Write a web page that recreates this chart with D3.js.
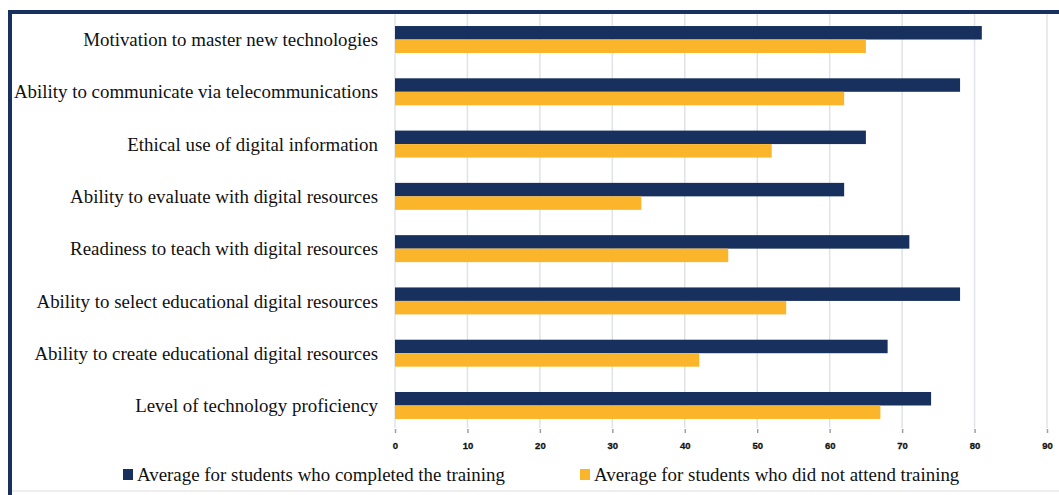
<!DOCTYPE html>
<html>
<head>
<meta charset="utf-8">
<script src="https://cdn.jsdelivr.net/npm/d3@7"></script>
<style>
  body { margin: 0; background: #fff; }
  svg { display: block; }
</style>
</head>
<body>
<div id="chart"></div>
<script>
'use strict';

var categories = [
  'Motivation to master new technologies',
  'Ability to communicate via telecommunications',
  'Ethical use of digital information',
  'Ability to evaluate with digital resources',
  'Readiness to teach with digital resources',
  'Ability to select educational digital resources',
  'Ability to create educational digital resources',
  'Level of technology proficiency'
];
var completed = [81, 78, 65, 62, 71, 78, 68, 74];
var notAttended = [65, 62, 52, 34, 46, 54, 42, 67];
var seriesNames = [
  'Average for students who completed the training',
  'Average for students who did not attend training'
];
var xTicks = [0, 10, 20, 30, 40, 50, 60, 70, 80, 90];

var W = 1059, H = 495;
var navy = '#17305e', orange = '#fbb52b';

var svg = d3.select('#chart').append('svg')
  .attr('width', W).attr('height', H);

// frame (dark top + left edge)
svg.append('rect').attr('x', 0).attr('y', 0).attr('width', W).attr('height', H).attr('fill', '#fff');
svg.append('line').attr('x1', 8).attr('x2', W).attr('y1', 12).attr('y2', 12)
  .attr('stroke', navy).attr('stroke-width', 4);
svg.append('line').attr('x1', 10).attr('x2', 10).attr('y1', 10).attr('y2', H)
  .attr('stroke', navy).attr('stroke-width', 4);
svg.append('line').attr('x1', 12).attr('x2', W).attr('y1', 491).attr('y2', 491)
  .attr('stroke', '#eeeeee').attr('stroke-width', 2);

var x = d3.scaleLinear().domain([0, 90]).range([395, 1047]);
var y = d3.scaleBand().domain(categories).range([14, 431])
  .paddingInner(0.484).paddingOuter(0.23);
var sub = d3.scaleBand().domain(['completed', 'notAttended']).range([0, y.bandwidth()]);

// gridlines
svg.append('g').selectAll('line').data(xTicks).enter().append('line')
  .attr('x1', function(d){ return x(d); })
  .attr('x2', function(d){ return x(d); })
  .attr('y1', 14).attr('y2', 428)
  .attr('stroke', '#dfe3e8').attr('stroke-width', 1.5);

// axis ticks + labels
var xAxis = d3.axisBottom(x).tickValues(xTicks).tickSize(4).tickPadding(9);
var gx = svg.append('g').attr('transform', 'translate(0,429)').call(xAxis);
gx.select('.domain').remove();
gx.selectAll('.tick line').attr('stroke', '#9aa0a8').attr('stroke-width', 1.5);
gx.selectAll('.tick text')
  .attr('font-family', 'Liberation Sans, Arial, sans-serif')
  .attr('font-weight', 'bold').attr('font-size', 9.5).attr('fill', '#111')
  .attr('stroke', '#111').attr('stroke-width', 0.3);

// bars
var rows = svg.append('g').selectAll('g').data(categories).enter().append('g')
  .attr('transform', function(d){ return 'translate(0,' + y(d) + ')'; });

rows.append('rect')
  .attr('x', x(0))
  .attr('y', sub('completed'))
  .attr('height', sub.bandwidth())
  .attr('width', function(d, i){ return x(completed[i]) - x(0); })
  .attr('fill', navy);

rows.append('rect')
  .attr('x', x(0))
  .attr('y', sub('notAttended'))
  .attr('height', sub.bandwidth())
  .attr('width', function(d, i){ return x(notAttended[i]) - x(0); })
  .attr('fill', orange);

// category labels
rows.append('text')
  .attr('x', 378)
  .attr('y', y.bandwidth() / 2)
  .attr('dy', '0.35em')
  .attr('text-anchor', 'end')
  .attr('font-family', 'Liberation Serif, Times New Roman, serif')
  .attr('font-size', 18.9)
  .attr('fill', '#111')
  .text(function(d){ return d; });

// legend
var legend = [
  { name: seriesNames[0], color: navy, x: 123 },
  { name: seriesNames[1], color: orange, x: 580 }
];
var lg = svg.append('g').selectAll('g').data(legend).enter().append('g')
  .attr('transform', function(d){ return 'translate(' + d.x + ',474)'; });
lg.append('rect').attr('x', 0).attr('y', -5).attr('width', 10).attr('height', 11)
  .attr('fill', function(d){ return d.color; });
lg.append('text').attr('x', 14).attr('y', 0).attr('dy', '0.35em')
  .attr('font-family', 'Liberation Serif, Times New Roman, serif')
  .attr('font-size', 18.9).attr('fill', '#111')
  .text(function(d){ return d.name; });
</script>
</body>
</html>
